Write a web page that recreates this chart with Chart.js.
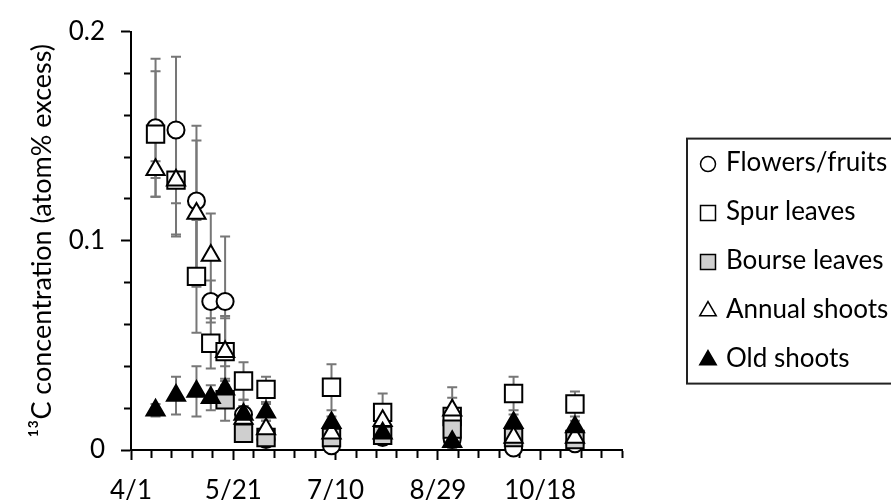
<!DOCTYPE html>
<html>
<head>
<meta charset="utf-8">
<script src="https://cdn.jsdelivr.net/npm/chart.js@4"></script>
<style>
  html, body { margin: 0; padding: 0; background: #fff; overflow: hidden; }
  canvas { display: block; }
</style>
</head>
<body>
<canvas id="chart" width="891" height="500"></canvas>
<script>
// sampling dates (month/day), values are 13C atom% excess
const sampleDates = ['4/13', '4/23', '5/3', '5/10', '5/17', '5/26', '6/6', '7/8', '8/2', '9/5', '10/5', '11/4']

const flowersFruits = [0.154, 0.153, 0.119, 0.071, 0.071, 0.017, 0.005, 0.002, 0.006, 0.005, 0.001, 0.003]
const flowersErr = [0.033, 0.035, 0.036, 0.010, 0.031, 0.007, 0.003, 0.002, 0.003, 0.003, 0.002, 0.002]

const spurLeaves = [0.151, 0.129, 0.083, 0.051, 0.047, 0.033, 0.029, 0.030, 0.018, 0.016, 0.027, 0.022]
const spurErr = [0.030, 0.027, 0.027, 0.012, 0.017, 0.009, 0.006, 0.011, 0.009, 0.009, 0.008, 0.006]

const bourseLeaves = [null, null, null, null, 0.024, 0.008, 0.006, 0.006, 0.007, 0.010, 0.006, 0.005]
const bourseErr = [null, null, null, null, 0.010, 0.003, 0.002, 0.002, 0.002, 0.003, 0.002, 0.002]

const annualShoots = [0.134, 0.129, 0.113, 0.093, 0.047, 0.015, 0.010, 0.008, 0.014, 0.019, 0.006, 0.006]
const annualErr = [0.004, 0.026, 0.035, 0.020, 0.016, 0.006, 0.004, 0.004, 0.004, 0.011, 0.004, 0.004]

const oldShoots = [0.019, 0.026, 0.028, 0.025, 0.029, 0.017, 0.018, 0.013, 0.008, 0.004, 0.013, 0.011]
const oldErr = [0.003, 0.009, 0.012, 0.006, 0.004, 0.004, 0.004, 0.003, 0.003, 0.003, 0.004, 0.003]

// x axis: days after 4/1
const xTickDays = [0, 50, 100, 150, 200]
const xTickLabels = ['4/1', '5/21', '7/10', '8/29', '10/18']
const yTickValues = [0, 0.1, 0.2]
const yTickLabels = ['0', '0.1', '0.2']

const FONT = 'Lato'

function dayOf(md) {
  const [m, d] = md.split('/').map(Number)
  return Math.round((Date.UTC(2019, m - 1, d) - Date.UTC(2019, 3, 1)) / 864e5)
}
const sampleDays = sampleDates.map(dayOf)

function series(label, values, errors, style) {
  return {
    label,
    data: sampleDays.map((d, i) => ({ x: d, y: values[i] })),
    errors,
    showLine: false,
    clip: false,
    pointBorderColor: '#000',
    pointBorderWidth: 2,
    ...style,
  }
}

const datasets = [
  series('Flowers/fruits', flowersFruits, flowersErr, { pointStyle: 'circle', pointRadius: 8.5, pointBackgroundColor: '#fff', order: 5 }),
  series('Spur leaves', spurLeaves, spurErr, { pointStyle: 'rect', pointRadius: 12.3, pointBackgroundColor: '#fff', order: 4 }),
  series('Bourse leaves', bourseLeaves, bourseErr, { pointStyle: 'rect', pointRadius: 12.3, pointBackgroundColor: '#cfcfcf', order: 3 }),
  series('Annual shoots', annualShoots, annualErr, { pointStyle: 'triangle', pointRadius: 10.5, pointBackgroundColor: '#fff', order: 2 }),
  series('Old shoots', oldShoots, oldErr, { pointStyle: 'triangle', pointRadius: 10.5, pointBackgroundColor: '#000', order: 1 }),
]

// grey error bars with caps, behind the markers
const errorBars = {
  id: 'errorBars',
  beforeDatasetsDraw(chart) {
    const { ctx, scales: { x, y } } = chart
    ctx.save()
    ctx.strokeStyle = '#777'
    ctx.lineWidth = 2
    chart.data.datasets.forEach((ds) => {
      ds.data.forEach((p, i) => {
        const e = ds.errors[i]
        if (p.y == null || e == null) return
        const px = x.getPixelForValue(p.x)
        const top = y.getPixelForValue(p.y + e)
        const bot = y.getPixelForValue(p.y - e)
        ctx.beginPath()
        ctx.moveTo(px, top); ctx.lineTo(px, bot)
        ctx.moveTo(px - 5, top); ctx.lineTo(px + 5, top)
        ctx.moveTo(px - 5, bot); ctx.lineTo(px + 5, bot)
        ctx.stroke()
      })
    })
    ctx.restore()
  },
}

// boxed legend on the right, like the original
const boxLegend = {
  id: 'boxLegend',
  afterDraw(chart) {
    const { ctx, chartArea } = chart
    const left = chartArea.right + 65
    const top = chartArea.top + 107
    const rowH = 49
    const n = chart.data.datasets.length
    ctx.save()
    ctx.lineWidth = 2
    ctx.strokeStyle = '#222'
    ctx.strokeRect(left, top, 300, rowH * n)
    ctx.font = `26px ${FONT}`
    ctx.textBaseline = 'middle'
    chart.data.datasets.forEach((ds, i) => {
      const cy = top + rowH / 2 + i * rowH
      const radius = ds.pointStyle === 'circle' ? 7.5 : ds.pointStyle === 'rect' ? 10.6 : 9.5
      ctx.fillStyle = ds.pointBackgroundColor
      ctx.strokeStyle = '#000'
      ctx.lineWidth = 1.5
      Chart.helpers.drawPoint(ctx, { pointStyle: ds.pointStyle, radius, rotation: 0, borderWidth: 1.5 }, left + 21, cy + 1)
      ctx.fillStyle = '#000'
      ctx.fillText(ds.label, left + 39, cy)
    })
    ctx.restore()
  },
}

new Chart(document.getElementById('chart'), {
  type: 'scatter',
  data: { datasets },
  plugins: [errorBars, boxLegend],
  options: {
    responsive: false,
    animation: false,
    events: [],
    layout: { padding: { left: 22, top: 30, right: 269, bottom: 0 } },
    plugins: { legend: { display: false }, tooltip: { enabled: false } },
    scales: {
      x: {
        type: 'linear',
        min: 0,
        max: 240,
        z: 1,
        afterFit: (scale) => { scale.height = 50 },
        border: { color: '#000', width: 2 },
        grid: {
          drawOnChartArea: false,
          tickLength: 10,
          tickColor: '#000',
          tickWidth: 2,
          tickBorderDash: (c) => (xTickDays.includes(c.tick.value) ? [] : [7, 100]),
        },
        ticks: {
          stepSize: 10,
          autoSkip: false,
          maxRotation: 0,
          padding: 15,
          color: '#000',
          font: { family: FONT, size: 26 },
          callback: (v) => {
            const i = xTickDays.indexOf(v)
            return i >= 0 ? xTickLabels[i] : ''
          },
        },
      },
      y: {
        min: 0,
        max: 0.2,
        afterFit: (scale) => { scale.width = 109 },
        border: { color: '#000', width: 2 },
        grid: {
          drawOnChartArea: false,
          tickLength: 10,
          tickColor: '#000',
          tickWidth: 2,
          tickBorderDash: (c) => (yTickValues.some((t) => Math.abs(t - c.tick.value) < 1e-9) ? [] : [0, 3, 7, 100]),
        },
        ticks: {
          stepSize: 0.02,
          autoSkip: false,
          padding: 16,
          color: '#000',
          font: { family: FONT, size: 26 },
          callback: (v) => {
            const i = yTickValues.findIndex((t) => Math.abs(t - v) < 1e-9)
            return i >= 0 ? yTickLabels[i] : ''
          },
        },
        title: {
          display: true,
          text: '¹³C concentration (atom% excess)',
          color: '#000',
          font: { family: FONT, size: 27 },
        },
      },
    },
  },
})
</script>
</body>
</html>
